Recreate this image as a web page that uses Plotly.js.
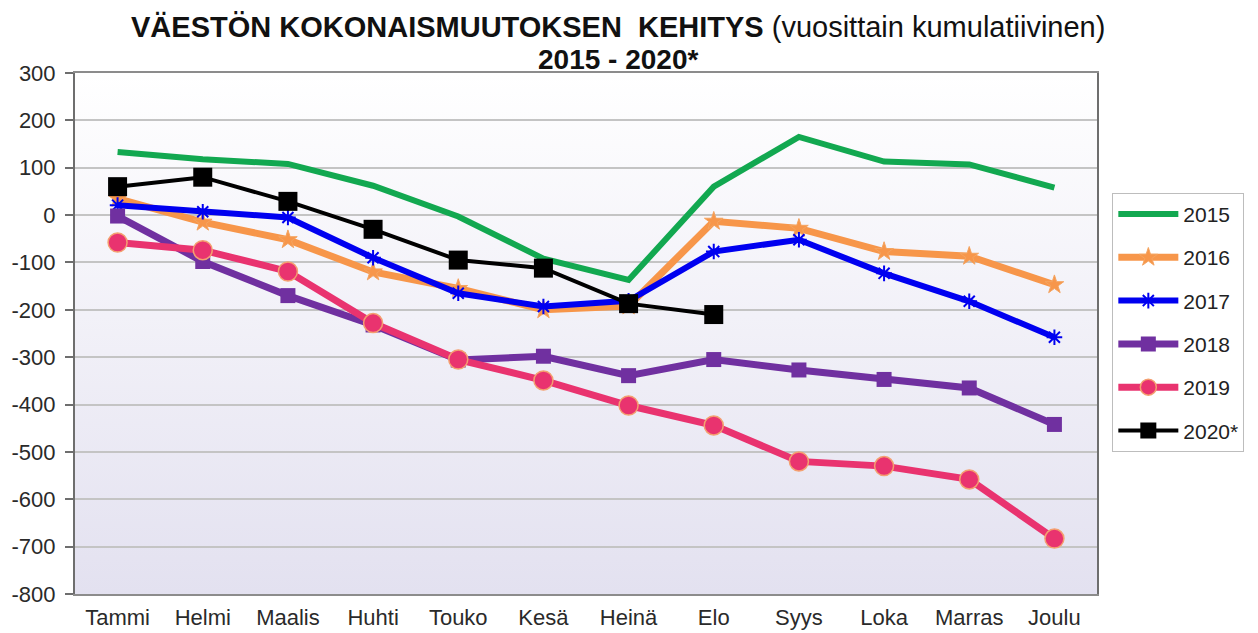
<!DOCTYPE html>
<html>
<head>
<meta charset="utf-8">
<script src="https://cdn.plot.ly/plotly-3.0.1.min.js"></script>
<style>html,body{margin:0;padding:0;background:#fff;}#chart{width:1258px;height:633px;}</style>
</head>
<body>
<div id="chart"></div>
<script>
const months = ["Tammi","Helmi","Maalis","Huhti","Touko","Kesä","Heinä","Elo","Syys","Loka","Marras","Joulu"];
const v2015 = [133, 118, 108, 62, -3, -92, -137, 60, 165, 113, 107, 58];
const v2016 = [35, -15, -52, -120, -155, -200, -192, -13, -28, -77, -87, -147];
const v2017 = [21, 7, -5, -90, -165, -193, -181, -77, -52, -123, -182, -258];
const v2018 = [-2, -98, -170, -232, -306, -298, -339, -305, -327, -347, -365, -442];
const v2019 = [-58, -74, -119, -228, -305, -349, -402, -444, -520, -530, -558, -683];
const v2020 = [60, 80, 29, -30, -95, -112, -187, -210];
const seriesNames = ["2015","2016","2017","2018","2019","2020*"];
const yTicks = [300,200,100,0,-100,-200,-300,-400,-500,-600,-700,-800];
const titleLine1 = "<b>VÄESTÖN KOKONAISMUUTOKSEN\u00A0 KEHITYS</b> (vuosittain kumulatiivinen)";
const titleLine2 = "<b>2015 - 2020*</b>";

const font = "Liberation Sans, Arial, sans-serif";
const traces = [
  {y: v2015, name: seriesNames[0], mode: "lines", line: {color: "#12A850", width: 6}},
  {y: v2016, name: seriesNames[1], mode: "lines+markers", line: {color: "#F7964A", width: 7},
   marker: {symbol: "star", size: 14, color: "#F7964A", line: {color: "#F4A460", width: 1}}},
  {y: v2017, name: seriesNames[2], mode: "lines+markers", line: {color: "#0000F0", width: 6},
   marker: {symbol: "asterisk-open", size: 13, color: "#0000F0", line: {color: "#0000F0", width: 2}}},
  {y: v2018, name: seriesNames[3], mode: "lines+markers", line: {color: "#7030A0", width: 7},
   marker: {symbol: "square", size: 15, color: "#7030A0"}},
  {y: v2019, name: seriesNames[4], mode: "lines+markers", line: {color: "#E9336F", width: 7},
   marker: {symbol: "circle", size: 19, color: "#E9336F", line: {color: "#F4A070", width: 1.5}}},
  {y: v2020, name: seriesNames[5], mode: "lines+markers", line: {color: "#000000", width: 4},
   marker: {symbol: "square", size: 19, color: "#000000"}}
].map((t, i) => Object.assign(t, {x: months.slice(0, t.y.length), type: "scatter", legendgroup: "g" + i}));

const gradSvg = "<svg xmlns='http://www.w3.org/2000/svg' width='100' height='100' preserveAspectRatio='none'><defs><linearGradient id='g' x1='0' y1='0' x2='0' y2='1'><stop offset='0' stop-color='#FFFFFF'/><stop offset='1' stop-color='#E3E1F0'/></linearGradient></defs><rect width='100' height='100' fill='url(#g)'/></svg>";

const layout = {
  width: 1258, height: 633,
  margin: {l: 75, r: 161, t: 73, b: 39},
  paper_bgcolor: "#FFFFFF",
  plot_bgcolor: "rgba(0,0,0,0)",
  font: {family: font, color: "#222", size: 20},
  annotations: [
    {text: titleLine1, xref: "paper", yref: "paper", x: 0.531, y: 1.088, xanchor: "center", yanchor: "middle",
     showarrow: false, font: {family: font, size: 29, color: "#111"}},
    {text: titleLine2, xref: "paper", yref: "paper", x: 0.531, y: 1.025, xanchor: "center", yanchor: "middle",
     showarrow: false, font: {family: font, size: 28, color: "#111"}}
  ],
  images: [{source: "data:image/svg+xml;charset=utf-8," + encodeURIComponent(gradSvg),
    xref: "paper", yref: "paper", x: 0, y: 1, sizex: 1, sizey: 1,
    sizing: "stretch", xanchor: "left", yanchor: "top", layer: "below"}],
  xaxis: {
    type: "category", categoryorder: "array", categoryarray: months,
    range: [-0.5, 11.5], showgrid: false, zeroline: false,
    showline: true, linecolor: "#8C8C8C", linewidth: 2, mirror: true,
    ticks: "", tickfont: {family: font, size: 22, color: "#2a2a2a"}, ticklabelstandoff: 3
  },
  yaxis: {
    range: [-800, 300], tickvals: yTicks, ticktext: yTicks.map(String),
    showgrid: true, gridcolor: "#C4C4C4", gridwidth: 2, zeroline: false,
    showline: true, linecolor: "#6E6E6E", linewidth: 2, mirror: true,
    ticks: "outside", ticklen: 8, tickcolor: "#6E6E6E", tickwidth: 2,
    tickfont: {family: font, size: 22, color: "#2a2a2a"}, ticklabelstandoff: 5
  },
  legend: {
    x: 1.015, xanchor: "left", y: 0.77, yanchor: "top",
    bgcolor: "#FFFFFF", bordercolor: "#BDBDBD", borderwidth: 1,
    font: {family: font, size: 21, color: "#222"},
    traceorder: "grouped", tracegroupgap: 13, itemwidth: 60
  },
  showlegend: true
};

Plotly.newPlot("chart", traces, layout, {displayModeBar: false, staticPlot: true});
</script>
</body>
</html>
